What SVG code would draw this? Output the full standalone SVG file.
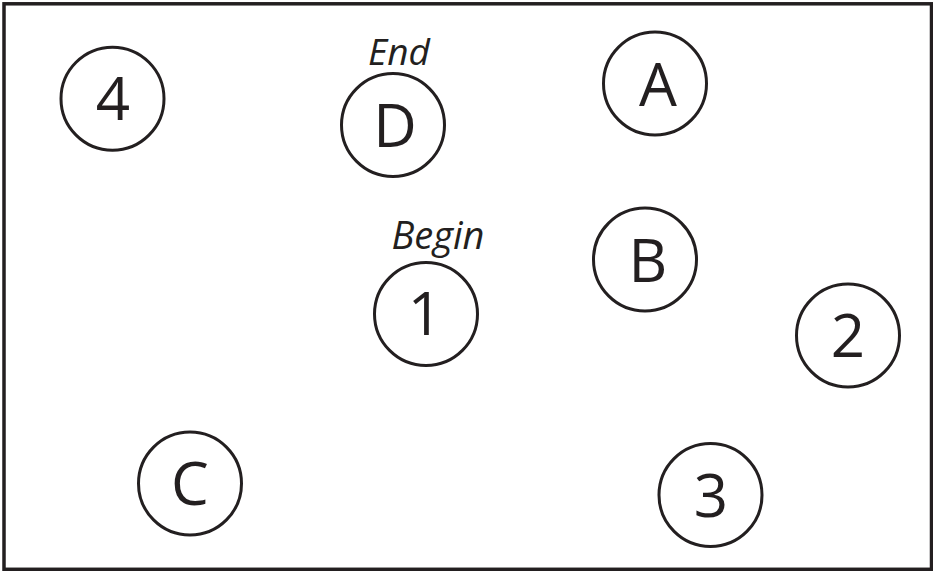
<svg xmlns="http://www.w3.org/2000/svg" width="933" height="571" viewBox="0 0 933 571">
<style>
.frame{fill:none;stroke:#231f20;stroke-width:3.5}
.node circle{fill:#fff;stroke:#231f20;stroke-width:3}
.node text{font-family:"Open Sans","Noto Sans","Liberation Sans",sans-serif;font-size:60px;fill:#231f20;text-anchor:middle}
.lbl{font-family:"Open Sans","Noto Sans","Liberation Sans",sans-serif;font-style:italic;fill:#231f20;text-anchor:middle}
</style>
<rect width="933" height="571" fill="#fff"/>
<rect class="frame" x="4" y="3.8" width="927.5" height="565.5"/>
<g id="connectors"></g>
<g id="node-4" class="node"><circle cx="112.5" cy="98.7" r="51.5"/><text x="113" y="120">4</text></g>
<g id="node-D" class="node"><circle cx="393" cy="125" r="51.5"/><text x="395" y="147">D</text><text class="lbl" x="399" y="65" style="font-size:37px">End</text></g>
<g id="node-A" class="node"><circle cx="655" cy="83.5" r="51.5"/><text x="658" y="106">A</text></g>
<g id="node-B" class="node"><circle cx="645" cy="259.5" r="51.5"/><text x="648" y="282">B</text></g>
<g id="node-1" class="node"><circle cx="426" cy="314" r="51.5"/><text x="425" y="335">1</text><text class="lbl" x="438" y="249" style="font-size:38px">Begin</text></g>
<g id="node-2" class="node"><circle cx="848" cy="335.5" r="51.5"/><text x="848" y="357">2</text></g>
<g id="node-C" class="node"><circle cx="190" cy="483.5" r="51.5"/><text x="190" y="505">C</text></g>
<g id="node-3" class="node"><circle cx="710.5" cy="495" r="51.5"/><text x="711" y="517">3</text></g>
</svg>
